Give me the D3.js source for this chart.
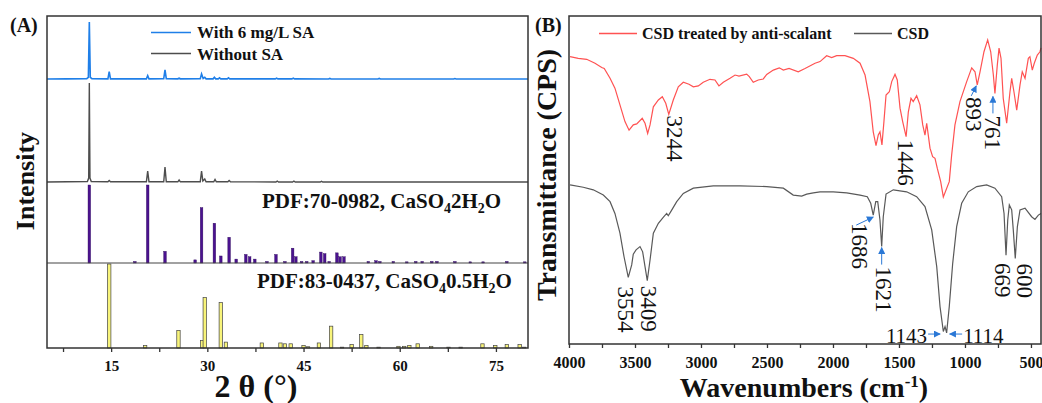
<!DOCTYPE html>
<html>
<head>
<meta charset="utf-8">
<script src="https://cdnjs.cloudflare.com/ajax/libs/d3/7.8.5/d3.min.js"></script>
<style>
  body { margin: 0; background: #fff; }
  svg text { font-family: "Liberation Serif", "Times New Roman", serif; fill: #111; }
  .bold { font-weight: bold; }
  .frame { fill: none; stroke: #333; stroke-width: 1.5; }
  .tick line { stroke: #333; stroke-width: 1.3; }
</style>
</head>
<body>
<div id="chart"></div>
<script>

// -----------------------------------------------------------------------------
// Data (A: XRD, B: FTIR)
// -----------------------------------------------------------------------------

// 2-theta vs relative intensity
var xrdWithSA = [[5,0],[8,0.3],[11.2,0.5],[11.45,3],[11.6,100],[11.75,3],[12,0.5],[14.5,0.3],[14.7,13],
  [14.9,0.3],[20.5,0.3],[20.7,6],[20.9,0.3],[23.2,0.5],[23.4,16],[23.6,0.5],[25.4,0.3],[25.6,1.5],
  [25.8,0.3],[28.9,0.5],[29.1,9],[29.35,1],[29.6,3],[29.8,0.3],[30.9,0.3],[31.1,3],[31.3,0.3],
  [31.7,0.3],[31.9,2],[32.1,0.3],[33.1,0.3],[33.3,2],[33.5,0.3],[40.6,0.2],[40.8,1.5],[41,0.2],
  [43.2,0.2],[43.4,1.5],[43.6,0.2],[48.9,0],[49.1,1],[49.3,0],[56.6,0],[56.8,1],[57,0],
  [68.4,0],[68.6,0.8],[68.8,0],[80,0]];

var xrdWithoutSA = [[5,0],[11.3,0.5],[11.5,4],[11.6,100],[11.7,4],[11.9,0.5],[14.5,0.2],[14.7,1.5],
  [14.9,0.2],[20.5,0.3],[20.7,11],[20.9,0.3],[23.2,0.3],[23.4,15],[23.6,0.3],[25.4,0.2],[25.6,2],
  [25.8,0.2],[28.9,0.3],[29.1,11],[29.3,1],[29.6,3],[29.8,0.3],[31,0.2],[31.2,2.5],[31.4,0.2],
  [33.2,0.2],[33.4,1.5],[33.6,0.2],[40.7,0],[40.9,1],[41.1,0],[43.3,0],[43.5,1],[43.7,0],
  [47.6,0],[47.8,0.7],[48,0],[80,0]];

// PDF:70-0982, CaSO4 2H2O
var pdfGypsum = [[11.6,100],[18.7,2],[20.7,100],[23.4,15],[28.1,4],[29.1,71],[31.1,51],[32.1,9],
  [33.4,33],[34.5,5],[36.0,11],[36.6,8],[37.4,5],[39.3,2],[40.7,11],[42.1,2],[43.3,19],[43.8,8],
  [44.7,2],[45.5,2],[46.5,3],[47.7,14],[48.3,12],[49.0,2],[50.2,13],[50.7,8],[51.3,8],[55.1,2],
  [56.3,3],[56.9,2],[59.0,2],[61.1,1.5],[62.5,2],[63.5,2],[65.0,2],[65.8,2],[68.6,2],[71.0,1.5],
  [73.0,1.5],[76.7,2],[79.5,1.5]];

// PDF:83-0437, CaSO4 0.5H2O
var pdfHemihydrate = [[14.7,100],[20.3,3],[25.5,21],[29.2,9],[29.6,60],[32.1,54],[32.9,7],[38.5,6],
  [41.4,6],[42.1,5],[43.0,5],[45.0,3],[45.7,1.5],[47.4,6],[49.3,26],[51.0,1],[52.5,4],[54.0,16],
  [54.8,3],[56.7,1],[59.8,2],[60.7,2],[61.5,3],[62.8,5],[64.9,2],[67.6,1],[69.5,1],[72.9,5],
  [74.9,3],[76.7,4],[78.7,4],[79.4,1]];

var xrdTicks = [15, 30, 45, 60, 75];
var xrdMinorTicks = [7.5, 22.5, 37.5, 52.5, 67.5];

// wavenumber vs transmittance (offset, arbitrary units)
var ftirTreated = [[3992,87.6],[3930,87.1],[3866,86.8],[3803,85.6],[3752,84.3],[3733,84.0],[3689,81.0],
  [3652,78.0],[3614,72.9],[3576,67.8],[3545,65.2],[3513,66.8],[3487,67.1],[3445,68.8],[3424,67.3],
  [3404,64.2],[3386,66.8],[3361,72.3],[3323,74.4],[3293,75.4],[3267,73.4],[3244,70.0],[3210,74.4],
  [3172,78.4],[3134,79.8],[3091,79.2],[3058,78.4],[3020,78.7],[2983,79.8],[2932,80.7],[2894,80.5],
  [2864,78.7],[2831,79.8],[2780,81.0],[2742,82.0],[2712,81.7],[2654,82.3],[2634,81.5],[2604,79.8],
  [2566,80.5],[2528,80.8],[2502,82.2],[2452,83.5],[2407,84.2],[2376,83.5],[2333,84.0],[2263,83.0],
  [2212,84.0],[2136,85.6],[2098,86.1],[2048,87.9],[2010,87.3],[1972,87.9],[1909,87.9],[1846,87.1],
  [1795,85.6],[1757,82.0],[1720,73.9],[1695,64.7],[1674,60.5],[1657,63.7],[1644,64.7],[1629,60.7],
  [1614,67.8],[1598,75.9],[1573,76.9],[1555,80.0],[1530,82.2],[1513,80.5],[1492,71.9],[1472,67.8],
  [1446,63.2],[1429,70.8],[1409,74.9],[1392,73.9],[1366,75.7],[1341,72.9],[1320,66.8],[1303,63.7],
  [1290,67.3],[1278,63.7],[1265,59.7],[1245,57.1],[1227,56.6],[1210,53.6],[1184,49.5],[1164,44.8],
  [1119,49.5],[1101,57.6],[1076,66.8],[1038,73.9],[987,80.0],[949,84.2],[924,83.0],[907,79.0],
  [886,83.0],[856,89.1],[828,92.7],[805,89.1],[785,82.0],[773,76.4],[755,85.1],[742,90.2],[727,87.1],
  [710,74.9],[684,67.3],[659,76.9],[646,81.0],[629,76.9],[608,71.3],[583,79.0],[566,83.0],[545,81.0],
  [520,87.1],[508,87.6],[490,83.5],[475,85.6],[452,88.1],[432,89.1],[424,90.3]];

var ftirCsd = [[3992,48.5],[3892,47.8],[3816,47.0],[3740,45.4],[3689,43.4],[3652,39.8],[3614,33.8],
  [3583,26.6],[3551,20.3],[3525,24.1],[3513,27.4],[3492,28.7],[3462,29.7],[3442,28.1],[3424,23.6],
  [3407,19.3],[3386,25.6],[3361,33.8],[3323,36.8],[3286,38.6],[3260,39.8],[3248,39.1],[3230,40.3],
  [3184,43.4],[3134,45.9],[3058,47.5],[2907,48.2],[2705,48.2],[2502,48.0],[2376,47.5],[2301,45.4],
  [2237,45.1],[2199,45.7],[2149,46.1],[2098,46.4],[1998,46.4],[1896,46.1],[1795,45.4],[1740,44.9],
  [1714,42.9],[1695,39.3],[1676,43.4],[1661,43.4],[1644,37.8],[1631,29.7],[1619,38.8],[1598,45.7],
  [1543,47.0],[1442,46.4],[1366,44.9],[1303,41.9],[1252,34.8],[1214,23.6],[1189,11.4],[1164,3.8],
  [1151,5.3],[1139,3.4],[1119,11.4],[1093,24.6],[1063,35.8],[1025,42.9],[975,46.4],[911,48.0],
  [836,48.5],[773,47.5],[722,44.9],[704,39.8],[689,27.1],[676,37.8],[664,42.4],[646,40.9],[634,34.8],
  [619,26.1],[603,35.8],[583,40.9],[545,41.4],[495,38.8],[470,38.0],[444,39.3],[424,39.8]];

var ftirTicks = [4000, 3500, 3000, 2500, 2000, 1500, 1000, 500];
var ftirMinorTicks = [3750, 3250, 2750, 2250, 1750, 1250, 750];

var treatedPeaks = [3244, 1446, 893, 761];
var csdPeaks = [3554, 3409, 1686, 1621, 669, 600, 1143, 1114];

// -----------------------------------------------------------------------------
// D3 Configurations
// -----------------------------------------------------------------------------

var width = 1042,
    height = 403;

var panelA = {left: 47, right: 528, top: 16, bottom: 348},
    panelB = {left: 569, right: 1041, top: 16, bottom: 344};

var svg = d3.select("#chart").append("svg")
    .attr("width", width)
    .attr("height", height);

var defs = svg.append("defs");
defs.append("marker")
    .attr("id", "arrow")
    .attr("markerUnits", "userSpaceOnUse")
    .attr("viewBox", "0 0 10 10")
    .attr("refX", 9)
    .attr("refY", 5)
    .attr("markerWidth", 7)
    .attr("markerHeight", 7)
    .attr("orient", "auto")
  .append("path")
    .attr("d", "M0,0 L10,5 L0,10 z")
    .attr("fill", "#2a78d6");

// -----------------------------------------------------------------------------
// Panel A
// -----------------------------------------------------------------------------

var xA = d3.scaleLinear()
    .domain([5, 80])
    .range([panelA.left, panelA.right]);

var yBlue = d3.scaleLinear().domain([0, 100]).range([79, 22]),
    yGray = d3.scaleLinear().domain([0, 100]).range([182, 83]),
    yPdf1 = d3.scaleLinear().domain([0, 100]).range([263, 185]),
    yPdf2 = d3.scaleLinear().domain([0, 100]).range([348, 264]);

function xrdLine(yScale) {
  return d3.line()
      .x(function(d) { return xA(d[0]); })
      .y(function(d) { return yScale(d[1]); });
}

svg.append("path")
    .datum(xrdWithoutSA)
    .attr("fill", "none")
    .attr("stroke", "#4d4d4d")
    .attr("stroke-width", 1.4)
    .attr("d", xrdLine(yGray));

svg.append("path")
    .datum(xrdWithSA)
    .attr("fill", "none")
    .attr("stroke", "#1f7fe8")
    .attr("stroke-width", 1.6)
    .attr("d", xrdLine(yBlue));

svg.selectAll(".bar-gyp")
    .data(pdfGypsum)
  .enter().append("rect")
    .attr("class", "bar-gyp")
    .attr("x", function(d) { return xA(d[0]) - 1.3; })
    .attr("width", 2.6)
    .attr("y", function(d) { return yPdf1(d[1]); })
    .attr("height", function(d) { return yPdf1(0) - yPdf1(d[1]); })
    .attr("fill", "#4b1290")
    .attr("stroke", "#2d0a5a")
    .attr("stroke-width", 0.4);

svg.selectAll(".bar-hemi")
    .data(pdfHemihydrate)
  .enter().append("rect")
    .attr("class", "bar-hemi")
    .attr("x", function(d) { return xA(d[0]) - 1.7; })
    .attr("width", 3.4)
    .attr("y", function(d) { return yPdf2(d[1]); })
    .attr("height", function(d) { return yPdf2(0) - yPdf2(d[1]); })
    .attr("fill", "#f8f47a")
    .attr("stroke", "#444")
    .attr("stroke-width", 0.7);

// separator between the two reference patterns
svg.append("line")
    .attr("x1", panelA.left).attr("x2", panelA.right)
    .attr("y1", yPdf1(0)).attr("y2", yPdf1(0))
    .attr("stroke", "#444")
    .attr("stroke-width", 1.2);

svg.append("rect")
    .attr("class", "frame")
    .attr("x", panelA.left)
    .attr("y", panelA.top)
    .attr("width", panelA.right - panelA.left)
    .attr("height", panelA.bottom - panelA.top);

var axisA = svg.append("g")
    .attr("transform", "translate(0," + panelA.bottom + ")")
    .call(d3.axisBottom(xA).tickValues(xrdTicks).tickSize(4).tickPadding(8).tickFormat(d3.format("d")));
svg.append("g")
    .attr("transform", "translate(0," + panelA.bottom + ")")
    .call(d3.axisBottom(xA).tickValues(xrdMinorTicks).tickSize(4).tickFormat(""))
    .select(".domain").remove();
axisA.select(".domain").remove();
axisA.selectAll("text")
    .attr("class", "bold")
    .style("font-size", "15px")
    .style("font-family", "Liberation Serif")
    .attr("fill", "#111");

// legend A
var legendA = [["With 6 mg/L SA", "#1f7fe8", 32.5, 38], ["Without SA", "#4d4d4d", 53.5, 59.5]];
legendA.forEach(function(l) {
  svg.append("line")
      .attr("x1", 151).attr("x2", 191)
      .attr("y1", l[2]).attr("y2", l[2])
      .attr("stroke", l[1]).attr("stroke-width", 1.6);
  svg.append("text")
      .attr("class", "bold")
      .attr("x", 197).attr("y", l[3])
      .style("font-size", "17px")
      .text(l[0]);
});

function pdfLabel(x, y, code, mid) {
  var t = svg.append("text").attr("class", "bold")
      .attr("x", x).attr("y", y)
      .style("font-size", "21px");
  t.append("tspan").text("PDF:" + code + ", CaSO");
  t.append("tspan").attr("dy", 5).style("font-size", "14px").text("4");
  t.append("tspan").attr("dy", -5).text(mid + "H");
  t.append("tspan").attr("dy", 5).style("font-size", "14px").text("2");
  t.append("tspan").attr("dy", -5).text("O");
}
pdfLabel(262, 208, "70-0982", "2");
pdfLabel(257, 288, "83-0437", "0.5");

svg.append("text")
    .attr("class", "bold")
    .attr("transform", "translate(34,181) rotate(-90)")
    .attr("text-anchor", "middle")
    .style("font-size", "26px")
    .text("Intensity");

svg.append("text")
    .attr("class", "bold")
    .attr("x", 256).attr("y", 397)
    .attr("text-anchor", "middle")
    .style("font-size", "32px")
    .text("2 \u03b8 (\u00b0)");

svg.append("text")
    .attr("class", "bold")
    .attr("x", 10).attr("y", 32)
    .style("font-size", "20px")
    .text("(A)");

// -----------------------------------------------------------------------------
// Panel B
// -----------------------------------------------------------------------------

var xB = d3.scaleLinear()
    .domain([4000, 424])
    .range([panelB.left, panelB.right]);

var yB = d3.scaleLinear()
    .domain([0, 100])
    .range([panelB.bottom, panelB.top]);

var ftirLine = d3.line()
    .x(function(d) { return xB(d[0]); })
    .y(function(d) { return yB(d[1]); });

svg.append("path")
    .datum(ftirCsd)
    .attr("fill", "none")
    .attr("stroke", "#595959")
    .attr("stroke-width", 1.2)
    .attr("d", ftirLine);

svg.append("path")
    .datum(ftirTreated)
    .attr("fill", "none")
    .attr("stroke", "#ff5252")
    .attr("stroke-width", 1.2)
    .attr("d", ftirLine);

svg.append("rect")
    .attr("class", "frame")
    .attr("x", panelB.left)
    .attr("y", panelB.top)
    .attr("width", panelB.right - panelB.left)
    .attr("height", panelB.bottom - panelB.top);

var axisB = svg.append("g")
    .attr("transform", "translate(0," + panelB.bottom + ")")
    .call(d3.axisBottom(xB).tickValues(ftirTicks).tickSize(4).tickPadding(9).tickFormat(d3.format("d")));
svg.append("g")
    .attr("transform", "translate(0," + panelB.bottom + ")")
    .call(d3.axisBottom(xB).tickValues(ftirMinorTicks).tickSize(4).tickFormat(""))
    .select(".domain").remove();
axisB.select(".domain").remove();
axisB.selectAll("text")
    .attr("class", "bold")
    .style("font-size", "16px")
    .style("font-family", "Liberation Serif")
    .attr("fill", "#111");

// peak labels, placed relative to the local minimum near each value
var peakLayout = {
  3244: {dx: -2, dy: 1},
  1446: {dx: -8, dy: 3},
  893: {dx: -11, dy: 12, arrow: [-6, 11, -1, 1]},
  761: {dx: -10, dy: 22, arrow: [-2, 20, -2, 3]},
  3554: {dx: -10, dy: 9},
  3409: {dx: -6, dy: 5},
  1686: {dx: -21, dy: 8, arrow: [-17, 10, 0, 2]},
  1621: {dx: -6, dy: 20, arrow: [0, 18, 0, 1]},
  669: {dx: -11, dy: 8},
  600: {dx: 1.5, dy: 5},
  1143: {dx: -19.5, dy: 10, anchor: "end", arrow: [-18.5, 1.2, -6.5, 1.2]},
  1114: {dx: 16.5, dy: 10, anchor: "start", arrow: [15.5, 1.2, 3, 1.2]}
};

function findDip(data, wn) {
  return d3.least(data.filter(function(d) { return Math.abs(d[0] - wn) < 30; }),
    function(d) { return d[1]; });
}

function drawPeaks(data, peaks) {
  peaks.forEach(function(p) {
    var dip = findDip(data, p),
        px = xB(dip[0]),
        py = yB(dip[1]),
        lay = peakLayout[p];
    if (lay.arrow) {
      svg.append("line")
          .attr("x1", px + lay.arrow[0]).attr("y1", py + lay.arrow[1])
          .attr("x2", px + lay.arrow[2]).attr("y2", py + lay.arrow[3])
          .attr("stroke", "#2a78d6")
          .attr("stroke-width", 1)
          .attr("marker-end", "url(#arrow)");
    }
    if (lay.anchor) {
      svg.append("text")
          .attr("x", px + lay.dx).attr("y", py + lay.dy)
          .attr("text-anchor", lay.anchor)
          .style("font-size", "21px")
          .text(p);
    } else {
      svg.append("text")
          .attr("transform", "translate(" + (px + lay.dx) + "," + (py + lay.dy) + ") rotate(90)")
          .style("font-size", "23px")
          .text(p);
    }
  });
}

drawPeaks(ftirTreated, treatedPeaks);
drawPeaks(ftirCsd, csdPeaks);

// legend B
svg.append("line")
    .attr("x1", 599).attr("x2", 637).attr("y1", 33.5).attr("y2", 33.5)
    .attr("stroke", "#ff5252").attr("stroke-width", 1.3);
svg.append("text")
    .attr("class", "bold")
    .attr("x", 642).attr("y", 39)
    .style("font-size", "16px")
    .text("CSD treated by anti-scalant");
svg.append("line")
    .attr("x1", 854).attr("x2", 892).attr("y1", 33.5).attr("y2", 33.5)
    .attr("stroke", "#595959").attr("stroke-width", 1.3);
svg.append("text")
    .attr("class", "bold")
    .attr("x", 897).attr("y", 39)
    .style("font-size", "16px")
    .text("CSD");

svg.append("text")
    .attr("class", "bold")
    .attr("transform", "translate(556,175) rotate(-90)")
    .attr("text-anchor", "middle")
    .style("font-size", "28px")
    .text("Transmittance (CPS)");

var xTitleB = svg.append("text")
    .attr("class", "bold")
    .attr("x", 804).attr("y", 397)
    .attr("text-anchor", "middle")
    .style("font-size", "28px");
xTitleB.append("tspan").text("Wavenumbers (cm");
xTitleB.append("tspan").attr("dy", -10).style("font-size", "17px").text("-1");
xTitleB.append("tspan").attr("dy", 10).text(")");

svg.append("text")
    .attr("class", "bold")
    .attr("x", 535).attr("y", 32)
    .style("font-size", "20px")
    .text("(B)");

</script>
</body>
</html>
